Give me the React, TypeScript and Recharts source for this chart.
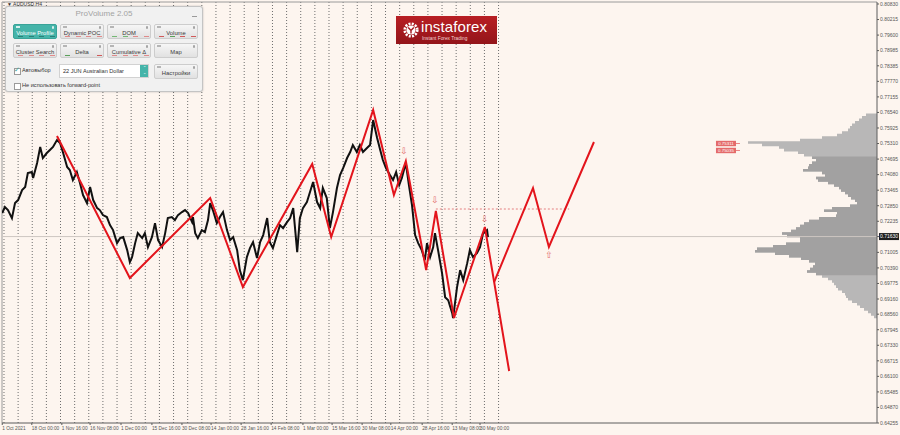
import React from 'react';
import { ComposedChart, Line, Area, XAxis, YAxis, ReferenceLine, Scatter } from 'recharts';

const BG = '#fdf5ef';
const AXIS = '#5c5c5c';
const RED = '#e3141c';

// right price scale
const priceTicks = [0.8083, 0.80215, 0.796, 0.78985, 0.78385, 0.7777, 0.77155, 0.7654, 0.75925, 0.7531, 0.74695, 0.7408, 0.73465, 0.7285, 0.72235, 0.7163, 0.71005, 0.7039, 0.69775, 0.6916, 0.6856, 0.67945, 0.6733, 0.66715, 0.661, 0.65485, 0.6487, 0.64255];
const currentPrice = 0.7163;
const priceDomain: [number, number] = [0.64255, 0.80909];

// time scale (H4 bar index)
const timeTickBars = [-4, 63, 131, 195, 265, 335, 403, 469, 537, 605, 677, 743, 811, 876, 947, 1015, 1078];
const timeTickLabels = ['1 Oct 2021', '18 Oct 00:00', '1 Nov 16:00', '16 Nov 08:00', '1 Dec 00:00', '15 Dec 16:00', '30 Dec 08:00', '14 Jan 00:00', '28 Jan 16:00', '14 Feb 08:00', '1 Mar 00:00', '15 Mar 16:00', '30 Mar 08:00', '14 Apr 00:00', '28 Apr 16:00', '13 May 08:00', '30 May 00:00'];
const weekSeparators = [0, 32, 64, 96, 128, 160, 192, 224, 256, 288, 320, 352, 384, 416, 448, 480, 512, 544, 576, 608, 640, 672, 704, 736, 768, 800, 832, 864, 896, 928, 960, 992, 1024, 1056, 1088, 1120];
const timeDomain: [number, number] = [-4.5, 1977];

// AUDUSD H4 price path [bar, price]
const priceSeries: [number, number][] = [
  [-4, 0.72559], [2, 0.72797], [9, 0.72678], [18, 0.72361], [25, 0.72955], [32, 0.73074], [41, 0.7347], [48, 0.73589],
  [54, 0.74143], [63, 0.74183], [66, 0.73945], [75, 0.74539], [82, 0.75173], [88, 0.74737], [97, 0.74935], [104, 0.75054],
  [111, 0.75173], [120, 0.7545], [127, 0.75331], [134, 0.74935], [143, 0.74381], [149, 0.74262], [156, 0.73866], [165, 0.74183],
  [172, 0.73747], [179, 0.73272], [188, 0.72955], [195, 0.73589], [202, 0.73074], [211, 0.72757], [217, 0.72678], [224, 0.7248],
  [233, 0.72401], [240, 0.72084], [247, 0.71886], [256, 0.71371], [263, 0.71569], [270, 0.71609], [279, 0.71094], [285, 0.70619],
  [290, 0.70817], [297, 0.71371], [303, 0.71767], [313, 0.71569], [319, 0.71767], [326, 0.71213], [335, 0.71609], [342, 0.72163],
  [349, 0.7149], [358, 0.71213], [365, 0.71767], [371, 0.72361], [380, 0.72401], [387, 0.72282], [394, 0.7248], [403, 0.72599],
  [410, 0.72678], [417, 0.72559], [426, 0.72203], [428, 0.72401], [433, 0.71767], [439, 0.71569], [448, 0.71886], [455, 0.71807],
  [462, 0.72282], [467, 0.72955], [473, 0.72678], [482, 0.72163], [489, 0.72401], [496, 0.72599], [505, 0.71886], [512, 0.7149],
  [519, 0.71609], [528, 0.71094], [534, 0.70302], [541, 0.69906], [550, 0.70817], [557, 0.71173], [564, 0.71411], [573, 0.70777],
  [580, 0.71411], [587, 0.71688], [596, 0.72361], [602, 0.71411], [609, 0.71173], [618, 0.71688], [625, 0.72084], [632, 0.71965],
  [641, 0.72203], [648, 0.72361], [655, 0.72757], [664, 0.71015], [670, 0.72361], [677, 0.72757], [686, 0.72995], [693, 0.73391],
  [700, 0.73787], [709, 0.72995], [716, 0.72757], [722, 0.73549], [731, 0.73153], [738, 0.71965], [745, 0.72599], [754, 0.73549],
  [761, 0.74064], [768, 0.74341], [777, 0.74737], [784, 0.74975], [790, 0.75252], [799, 0.74975], [806, 0.75252], [813, 0.74975],
  [822, 0.75133], [829, 0.75252], [836, 0.76241], [845, 0.75529], [852, 0.75054], [858, 0.74658], [865, 0.74341], [874, 0.74064],
  [881, 0.73866], [888, 0.74183], [895, 0.73668], [901, 0.73945], [910, 0.74539], [917, 0.73668], [924, 0.72876], [931, 0.71688],
  [938, 0.71371], [946, 0.71094], [953, 0.70698], [958, 0.71371], [965, 0.70817], [972, 0.71213], [976, 0.71767], [983, 0.71094],
  [992, 0.70183], [999, 0.69233], [1006, 0.69114], [1015, 0.686], [1017, 0.68402], [1026, 0.69629], [1033, 0.70302], [1040, 0.69906],
  [1049, 0.70579], [1055, 0.71094], [1062, 0.70817], [1071, 0.70975], [1078, 0.71213], [1085, 0.71767], [1094, 0.71886], [1096, 0.71609],
];

// wave markup
const waveMain: [number, number][] = [
  [120, 0.75608], [285, 0.69991], [467, 0.73155], [541, 0.69635], [698, 0.745], [741, 0.71613], [836, 0.76637],
  [883, 0.73274], [910, 0.74619], [956, 0.70307], [978, 0.72641], [1019, 0.68408], [1089, 0.72008], [1144, 0.66311],
];
const waveAlt: [number, number][] = [[1110, 0.69832], [1198, 0.73551], [1234, 0.71217], [1336, 0.75371]];
const levelLine = { from: 978, to: 1280, price: 0.7272 };
const waveMarks: [number, number, string][] = [[906, 0.75015, '⇩'], [976, 0.73076, '⇩'], [1089, 0.72325, '⇩'], [1234, 0.709, '⇧']];

// volume profile
const profilePrices = [0.765, 0.764, 0.763, 0.762, 0.761, 0.76, 0.759, 0.758, 0.757, 0.756, 0.755, 0.754, 0.753, 0.752, 0.751, 0.75,
  0.749, 0.748, 0.747, 0.746, 0.745, 0.744, 0.743, 0.742, 0.741, 0.74, 0.739, 0.738, 0.737, 0.736, 0.735, 0.734, 0.733, 0.732,
  0.731, 0.73, 0.729, 0.728, 0.727, 0.726, 0.725, 0.724, 0.723, 0.722, 0.721, 0.72, 0.719, 0.718, 0.717, 0.716, 0.715, 0.714,
  0.713, 0.712, 0.711, 0.71, 0.709, 0.708, 0.707, 0.706, 0.705, 0.704, 0.703, 0.702, 0.701, 0.7, 0.699, 0.698, 0.697, 0.696,
  0.695, 0.694, 0.693, 0.692, 0.691, 0.69, 0.689, 0.688, 0.687, 0.686, 0.685, 0.684];
const profileVolumes = [5, 11, 15, 18, 22, 25, 27, 29, 35, 40, 55, 77, 129, 115, 98, 93,
  79, 73, 65, 61, 65, 68, 69, 74, 55, 52, 61, 59, 49, 43, 38, 36, 32, 29,
  26, 22, 20, 27, 45, 53, 40, 41, 58, 68, 73, 77, 81, 86, 95, 90, 77, 77,
  91, 104, 120, 122, 102, 88, 76, 68, 62, 64, 67, 70, 61, 55, 49, 45, 43, 41,
  39, 35, 32, 31, 29, 25, 20, 17, 13, 9, 6, 3];
const valueAreaHigh = 0.7485;
const valueAreaLow = 0.7005;
const profileTags: [number, number, string][] = [[1635, 0.75311, '0.75311'], [1635, 0.75035, '0.75035']];

const toPts = (arr: [number, number][]) => arr.map(([b, p]) => ({ b, p }));
const markPts = waveMarks.map(([b, p, s]) => ({ b, p, s }));
const tagPts = profileTags.map(([b, p, s]) => ({ b, p, s }));
const profileAll = profilePrices.map((p, i) => ({ p, v: profileVolumes[i] }));
const profileVA = profileAll.filter((d) => d.p <= valueAreaHigh && d.p >= valueAreaLow);

const FONT = 'Liberation Sans, Arial, sans-serif';

const YTick = (props: any) => {
  const { x, y, payload } = props;
  const v = payload.value as number;
  if (Math.abs(v - currentPrice) < 1e-6) {
    return (
      <g>
        <rect x={x - 1} y={y - 3.5} width={20} height={7} fill="#1e1e1e" />
        <text x={x} y={y} dy={1.8} fontSize={5} fill="#fff" fontFamily={FONT}>{v.toFixed(5)}</text>
      </g>
    );
  }
  return <text x={x} y={y} dy={1.8} fontSize={5} fill="#555" fontFamily={FONT}>{v.toFixed(5)}</text>;
};

const XTick = (props: any) => {
  const { x, y, payload } = props;
  const i = timeTickBars.indexOf(payload.value);
  return <text x={x} y={y} dy={4.5} fontSize={4.8} fill="#555" textAnchor="start" fontFamily={FONT}>{i >= 0 ? timeTickLabels[i] : ''}</text>;
};

const MarkShape = (props: any) => {
  const { cx, cy, payload } = props;
  return <text x={cx} y={cy} dy={3} textAnchor="middle" fontSize={9} fill="#e26a6a" fontFamily="DejaVu Sans, sans-serif">{payload.s}</text>;
};

const TagShape = (props: any) => {
  const { cx, cy, payload } = props;
  return (
    <g>
      <rect x={cx - 10} y={cy - 2.7} width={20} height={5.4} fill="#e46a6a" />
      <line x1={cx + 10} y1={cy} x2={cx + 14} y2={cy} stroke="#e46a6a" strokeWidth={0.8} />
      <text x={cx} y={cy} dy={1.6} textAnchor="middle" fontSize={4.4} fill="#fff" fontFamily={FONT}>{payload.s}</text>
    </g>
  );
};

const btnMarks: Record<string, string[]> = {
  'Volume Profile': ['#2d7f77', '#2d7f77', '#2d7f77', '#2d7f77'],
  'Dynamic POC': ['#e08a8a', '#e08a8a', '#e08a8a', '#e08a8a'],
  'DOM': ['#74b874', '#74b874', '#e08a8a', '#e08a8a'],
  'Volume': ['#d05a5a', '#5aa05a', '#d05a5a', '#d05a5a'],
  'Cluster Search': ['#e08a8a', '#e08a8a', '#e08a8a', '#e08a8a'],
  'Delta': ['#5aa05a', '', '', '#d05a5a'],
  'Cumulative Δ': ['#e08a8a', '#e08a8a', '#e08a8a', '#e08a8a'],
  'Map': [],
};

const Btn = ({ x, y, w, label, active }: { x: number; y: number; w: number; label: string; active?: boolean }) => (
  <div style={{
    position: 'absolute', left: x, top: y, width: w, height: 15, boxSizing: 'border-box', borderRadius: 2,
    border: '1px solid ' + (active ? '#3aa398' : '#cdcdcd'),
    background: active ? '#45b4a9' : 'linear-gradient(#f6f6f6,#e1e1e1)',
    color: active ? '#fff' : '#3a3a3a', fontSize: 5.8, lineHeight: '14px', textAlign: 'center', whiteSpace: 'nowrap',
  }}>
    <div style={{ position: 'absolute', left: 2, top: 1, width: 4, height: 1.5, background: active ? '#d8f0ee' : '#b5b5b5' }} />
    <div style={{ position: 'absolute', right: 2, top: 1, width: 2.5, height: 2.5, borderRadius: 2, background: active ? '#d8f0ee' : '#a5a5a5' }} />
    <span style={{ position: 'relative', top: 0.5 }}>{label}</span>
    {(btnMarks[label] || []).map((c, i) => c ? (
      <div key={i} style={{ position: 'absolute', left: 4 + i * (w - 12) / 3, bottom: 1.5, width: 5, height: 1, background: c }} />
    ) : null)}
  </div>
);

const Panel = () => (
  <div style={{
    position: 'absolute', left: 5, top: 6, width: 198, height: 86, boxSizing: 'border-box', background: '#f1f1f1',
    border: '1px solid #c4c4c4', borderRadius: 3, boxShadow: '0 0 2px rgba(0,0,0,0.25)',
    fontFamily: '"Liberation Sans", Arial, sans-serif', color: '#333',
  }}>
    <div style={{ position: 'absolute', left: 0, width: 196, top: 2, textAlign: 'center', fontSize: 8, color: '#a3a3a3' }}>ProVolume 2.05</div>
    <div style={{ position: 'absolute', left: 186, top: 9, width: 5, height: 1, background: '#9a9a9a' }} />
    <Btn x={7} y={17} w={44} label="Volume Profile" active />
    <Btn x={54} y={17} w={44} label="Dynamic POC" />
    <Btn x={101} y={17} w={44} label="DOM" />
    <Btn x={148} y={17} w={44} label="Volume" />
    <Btn x={7} y={36} w={44} label="Cluster Search" />
    <Btn x={54} y={36} w={44} label="Delta" />
    <Btn x={101} y={36} w={44} label="Cumulative Δ" />
    <Btn x={148} y={36} w={44} label="Map" />
    <div style={{ position: 'absolute', left: 8, top: 61, width: 5, height: 5, border: '1px solid #9a9a9a', background: '#fff' }}>
      <div style={{ position: 'absolute', left: -1, top: -3, fontSize: 7, color: '#3aa398', lineHeight: '7px' }}>✓</div>
    </div>
    <div style={{ position: 'absolute', left: 16, top: 60, fontSize: 5.6 }}>Автовыбор</div>
    <div style={{ position: 'absolute', left: 53, top: 57, width: 90, height: 14, boxSizing: 'border-box', background: '#fff', border: '1px solid #d2d2d2' }}>
      <div style={{ position: 'absolute', left: 3, top: 3, fontSize: 5.6, whiteSpace: 'nowrap' }}>22 JUN Australian Dollar</div>
      <div style={{ position: 'absolute', right: 0, top: 0, width: 8, height: 12, background: '#45b4a9', color: '#fff', fontSize: 4, lineHeight: '5px', textAlign: 'center' }}>⌃<br />⌄</div>
    </div>
    <Btn x={148} y={57} w={44} label="Настройки" />
    <div style={{ position: 'absolute', left: 8, top: 76, width: 5, height: 5, border: '1px solid #9a9a9a', background: '#fff' }} />
    <div style={{ position: 'absolute', left: 16, top: 75, fontSize: 5.6, whiteSpace: 'nowrap' }}>Не использовать forward-point</div>
  </div>
);

const Logo = () => (
  <div style={{ position: 'absolute', left: 396, top: 16, width: 101, height: 28, background: 'linear-gradient(#b81e23,#93151a)', fontFamily: '"Liberation Sans", Arial, sans-serif' }}>
    <svg width={18} height={18} style={{ position: 'absolute', left: 6, top: 5 }} viewBox="0 0 18 18">
      <circle cx={9} cy={9} r={6.3} fill="none" stroke="#fff" strokeWidth={2.6} strokeDasharray="2 1.3" />
      <circle cx={9} cy={9} r={4.6} fill="#fff" />
      <path d="M6.2 6.5 L9 9.5 L11.8 6.5 M9 9.5 L9 12.5" stroke="#a5181d" strokeWidth={1.4} fill="none" />
    </svg>
    <div style={{ position: 'absolute', left: 25, top: 2, fontSize: 15, color: '#fff', letterSpacing: 0.1 }}>instaforex</div>
    <div style={{ position: 'absolute', left: 26, top: 20, fontSize: 4.8, color: '#f3d4d4', whiteSpace: 'nowrap' }}>Instant Forex Trading</div>
  </div>
);

const ProfileChart = () => (
  <ComposedChart width={900} height={435} layout="vertical" data={profileAll} margin={{ top: 2, right: 23, bottom: 12, left: 2 }}>
    <XAxis type="number" domain={[0, 875]} reversed hide allowDataOverflow />
    <YAxis type="number" dataKey="p" domain={priceDomain} reversed hide allowDataOverflow />
    <Area data={profileAll} dataKey="v" type="stepAfter" stroke="none" fill="#b8b7b7" fillOpacity={1} isAnimationActive={false} />
    <Area data={profileVA} dataKey="v" type="stepAfter" stroke="none" fill="#a2a1a1" fillOpacity={1} isAnimationActive={false} />
  </ComposedChart>
);

export default function App() {
  return (
    <div style={{ position: 'fixed', left: 0, top: 0, width: 900, height: 435, background: BG, overflow: 'hidden' }}>
      <div style={{ position: 'absolute', left: 0, top: 0 }}>
        <ProfileChart />
      </div>
      <div style={{ position: 'absolute', left: 0, top: 0 }}>
        <ComposedChart width={900} height={435} margin={{ top: 2, right: 0, bottom: 0, left: 2 }}>
          <XAxis dataKey="b" type="number" domain={timeDomain} ticks={timeTickBars} interval={0} height={12}
            tick={<XTick />} tickSize={2} tickMargin={0} tickLine={{ stroke: AXIS }} axisLine={{ stroke: AXIS }} allowDataOverflow />
          <YAxis dataKey="p" orientation="right" type="number" domain={priceDomain} ticks={priceTicks} interval={0}
            width={23} tick={<YTick />} tickSize={2} tickMargin={1} tickLine={{ stroke: AXIS }} axisLine={{ stroke: AXIS }} allowDataOverflow />
          {weekSeparators.map((b) => (
            <ReferenceLine key={'w' + b} x={b} stroke="#6e6e6e" strokeDasharray="1 2" strokeWidth={1} />
          ))}
          <ReferenceLine x={timeDomain[0]} stroke="#9a9a9a" />
          <ReferenceLine y={priceDomain[1]} stroke="#9a9a9a" />
          <ReferenceLine y={currentPrice} stroke="#cdc6c2" strokeWidth={1} />
          <ReferenceLine segment={[{ x: levelLine.from, y: levelLine.price }, { x: levelLine.to, y: levelLine.price }]}
            stroke="#e58080" strokeDasharray="2 2" strokeWidth={1} />
          <Line data={toPts(priceSeries)} dataKey="p" type="linear" stroke="#111" strokeWidth={2} dot={false} isAnimationActive={false} />
          <Line data={toPts(waveMain)} dataKey="p" type="linear" stroke={RED} strokeWidth={2} dot={false} isAnimationActive={false} />
          <Line data={toPts(waveAlt)} dataKey="p" type="linear" stroke={RED} strokeWidth={2} dot={false} isAnimationActive={false} />
          <Scatter data={markPts} dataKey="p" shape={<MarkShape />} isAnimationActive={false} />
          <Scatter data={tagPts} dataKey="p" shape={<TagShape />} isAnimationActive={false} />
        </ComposedChart>
      </div>
      <div style={{ position: 'absolute', left: 7, top: 1, fontSize: 5, color: '#333', fontFamily: FONT }}>▼ AUDUSD,H4</div>
      <Panel />
      <Logo />
    </div>
  );
}
